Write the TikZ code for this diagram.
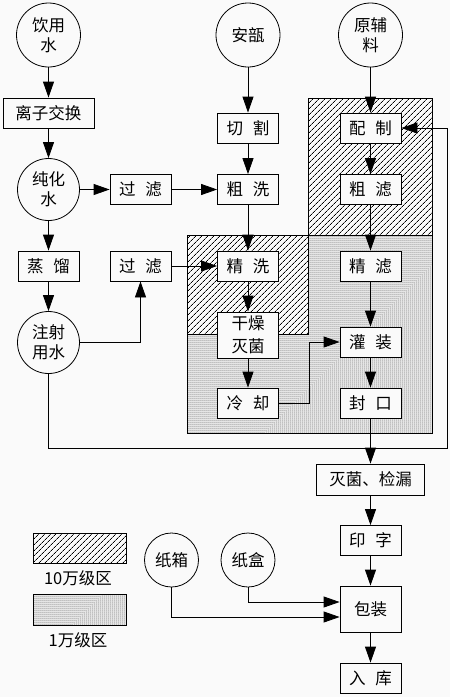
\documentclass[tikz,border=0pt]{standalone}
\usepackage{fontspec}
\newfontfamily\cjk{Noto Sans CJK SC}
\usetikzlibrary{arrows.meta,patterns.meta,calc}
\definecolor{bgc}{RGB}{250,250,250}
\newcommand{\kong}{\hspace{0.6em}}
\tikzset{
	box/.style={draw,fill=bgc,line width=0.8pt,inner sep=0pt,minimum width=61pt,minimum height=30pt,font=\cjk\fontsize{16.5}{20}\selectfont,align=center},
	yuan/.style={draw,circle,fill=bgc,line width=0.8pt,inner sep=0pt,font=\cjk\fontsize{16.5}{20}\selectfont,align=center},
	arr/.style={line width=0.8pt,-{Triangle[length=16pt,width=11pt]}},
	hatchzone/.style={line width=0.8pt,pattern={Lines[angle=45,distance=4pt,line width=0.7pt]}},
	dotzone/.style={line width=0.8pt,pattern={Dots[distance=2pt,radius=0.5pt]}},
	legtext/.style={font=\cjk\fontsize{16.5}{20}\selectfont,inner sep=0pt},
}

\begin{document}
\begin{tikzpicture}[x=1pt,y=-1pt]
	\fill[bgc] (0,0) rectangle (450,697);
	\useasboundingbox (0,0) rectangle (450,697);
	% clean zones
	\draw[dotzone] (308,235) -- (432,235) -- (432,433) -- (187,433) -- (187,334) -- (308,334) -- cycle;
	\draw[hatchzone] (308,98) rectangle (432,235);
	\draw[hatchzone] (187,235) rectangle (308,334);
	% water line
	\node[yuan,minimum size=64pt] (yinyong) at (48.5,35) {饮用\\水};
	\node[box,minimum width=91pt] (lizi) at (48.5,113) {离子交换};
	\node[yuan,minimum size=62pt] (chunhua) at (48.5,189.5) {纯化\\水};
	\node[box] (guolv1) at (140.5,189.5) {过\kong 滤};
	\node[box] (zhengliu) at (48.5,266) {蒸\kong 馏};
	\node[box] (guolv2) at (140.5,266) {过\kong 滤};
	\node[yuan,minimum size=62pt] (zhushe) at (48.5,342.5) {注射\\用水};
	% ampoule line
	\node[yuan,minimum size=64pt] (anbu) at (248,35) {安瓿};
	\node[box] (qiege) at (248,128) {切\kong 割};
	\node[box] (cuxi) at (248,189.5) {粗\kong 洗};
	\node[box] (jingxi) at (248,266) {精\kong 洗};
	\node[box,minimum height=46pt] (ganzao) at (248,335) {干燥\\[3pt]灭菌};
	\node[box] (lengque) at (248,403) {冷\kong 却};
	% liquid line
	\node[yuan,minimum size=64pt] (yuanfu) at (370.5,35) {原辅\\料};
	\node[box] (peizhi) at (370.5,128) {配\kong 制};
	\node[box] (culv) at (370.5,189.5) {粗\kong 滤};
	\node[box] (jinglv) at (370.5,266) {精\kong 滤};
	\node[box] (guanzhuang) at (370.5,342) {灌\kong 装};
	\node[box] (fengkou) at (370.5,403) {封\kong 口};
	\node[box,minimum width=108pt,minimum height=31pt] (miejun) at (370.5,479.5) {灭菌、检漏};
	\node[box] (yinzi) at (370.5,540.5) {印\kong 字};
	\node[box,minimum height=46pt] (baozhuang) at (370.5,609) {包装};
	\node[box] (ruku) at (370.5,678) {入\kong 库};
	\node[yuan,minimum size=54pt] (zhixiang) at (171.5,560) {纸箱};
	\node[yuan,minimum size=54pt] (zhihe) at (248,560) {纸盒};
	% legend
	\draw[hatchzone] (33,533) rectangle (126,563);
	\node[legtext] (legten) at (78,578) {10万级区};
	\draw[dotzone] (33,594) rectangle (126,625);
	\node[legtext] (legone) at (78,640) {1万级区};
	% arrows
	\draw[arr] (yinyong) -- (lizi);
	\draw[arr] (lizi) -- (chunhua);
	\draw[arr] (chunhua) -- (zhengliu);
	\draw[arr] (zhengliu) -- (zhushe);
	\draw[arr] (chunhua) -- (guolv1);
	\draw[arr] (guolv1) -- (cuxi);
	\draw[arr] (zhushe.east) -| (guolv2.south);
	\draw[arr] (guolv2) -- (jingxi);
	\draw[arr] (anbu) -- (qiege);
	\draw[arr] (qiege) -- (cuxi);
	\draw[arr] (cuxi) -- (jingxi);
	\draw[arr] (jingxi) -- (ganzao);
	\draw[arr] (ganzao) -- (lengque);
	\draw[arr] (lengque.east) -- ++(30,0) |- (guanzhuang.west);
	\draw[arr] (yuanfu) -- (peizhi);
	\draw[arr] (peizhi) -- (culv);
	\draw[arr] (culv) -- (jinglv);
	\draw[arr] (jinglv) -- (guanzhuang);
	\draw[arr] (guanzhuang) -- (fengkou);
	\draw[arr] (fengkou) -- (miejun);
	\draw[arr] (miejun) -- (yinzi);
	\draw[arr] (yinzi) -- (baozhuang);
	\draw[arr] (baozhuang) -- (ruku);
	\coordinate (fbcorner) at (447,448);
	\draw[arr] (zhushe.south) |- (fbcorner) |- (peizhi.east);
	\draw[arr] (zhihe.south) |- ($(baozhuang.west)+(0,-7)$);
	\draw[arr] (zhixiang.south) |- ($(baozhuang.west)+(0,8)$);
\end{tikzpicture}
\end{document}
